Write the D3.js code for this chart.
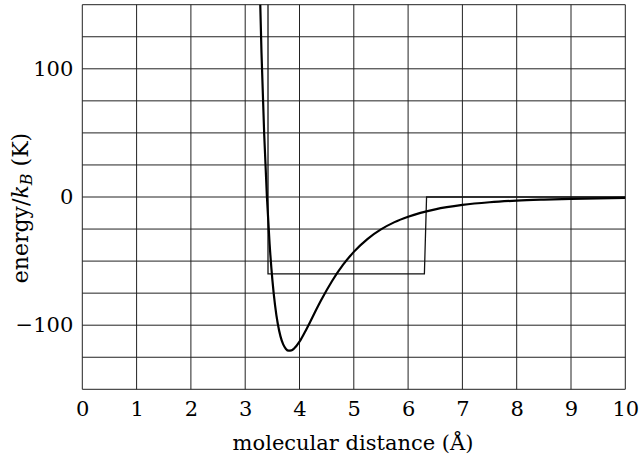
<!DOCTYPE html>
<html>
<head>
<meta charset="utf-8">
<script src="https://cdn.jsdelivr.net/npm/d3@7/dist/d3.min.js"></script>
<style>
  html, body { margin: 0; padding: 0; background: #fff; }
  svg { display: block; }
  text { font-family: "DejaVu Serif", "Liberation Serif", serif; fill: #000; }
</style>
</head>
<body>
<svg id="chart" width="642" height="458"></svg>
<script>
// Lennard-Jones pair potential (argon-like) sampled along the separation
const ljDistance = [3.25, 3.3, 3.35, 3.4, 3.45, 3.5, 3.55, 3.6, 3.65, 3.7, 3.75, 3.8, 3.85, 3.9,
  4.0, 4.1, 4.2, 4.3, 4.4, 4.6, 4.8, 5.0, 5.25, 5.5, 5.75, 6.0, 6.5, 7.0, 7.5, 8.0, 8.5, 9.0, 9.5, 10];
const ljEnergy = [195.6, 112.6, 48.8, 0, -36.9, -64.4, -84.5, -98.9, -108.7, -115.0, -118.5, -119.9, -119.7, -118.2,
  -112.8, -105.3, -97.1, -88.6, -80.4, -65.5, -53.0, -42.8, -32.8, -25.3, -19.6, -15.4, -9.6, -6.2, -4.1, -2.8, -2.0, -1.4, -1.0, -0.74];

// Square-well approximation: hard core, flat well, zero outside
const wellDistance = [3.42, 3.42, 6.3, 6.34, 10];
const wellEnergy = [170, -60, -60, 0, 0];

// Axis ticks and grid
const xTickLabels = [0, 1, 2, 3, 4, 5, 6, 7, 8, 9, 10];
const yTickLabels = [-100, 0, 100];
const yGridValues = [-150, -125, -100, -75, -50, -25, 0, 25, 50, 75, 100, 125, 150];

const svg = d3.select("#chart");
const plotLeft = 82.3, plotRight = 625.3, plotTop = 4.7, plotBottom = 389.3;
const fontSize = 21;

const x = d3.scaleLinear().domain([0, 10]).range([plotLeft, plotRight]);
const y = d3.scaleLinear().domain([-150, 150]).range([plotBottom, plotTop]);

svg.append("defs").append("clipPath").attr("id", "plot-clip")
  .append("rect").attr("x", plotLeft).attr("y", plotTop)
  .attr("width", plotRight - plotLeft).attr("height", plotBottom - plotTop);

// Grid
const grid = svg.append("g").attr("stroke", "#222").attr("stroke-width", 1);
grid.selectAll("line.v").data(xTickLabels).join("line").attr("class", "v")
  .attr("x1", d => x(d)).attr("x2", d => x(d)).attr("y1", plotTop).attr("y2", plotBottom);
grid.selectAll("line.h").data(yGridValues).join("line").attr("class", "h")
  .attr("x1", plotLeft).attr("x2", plotRight).attr("y1", d => y(d)).attr("y2", d => y(d));

// Axes (labels only; the frame is part of the grid)
const fmt = d => d < 0 ? "\u2212" + Math.abs(d) : String(d);
const xAxis = svg.append("g").attr("transform", `translate(0,${plotBottom})`)
  .call(d3.axisBottom(x).tickValues(xTickLabels).tickSize(0).tickPadding(12).tickFormat(fmt));
const yAxis = svg.append("g").attr("transform", `translate(${plotLeft},0)`)
  .call(d3.axisLeft(y).tickValues(yTickLabels).tickSize(0).tickPadding(9).tickFormat(fmt));
[xAxis, yAxis].forEach(a => {
  a.select(".domain").remove();
  a.selectAll("text").style("font-family", '"DejaVu Serif", serif').style("font-size", fontSize + "px").attr("fill", "#000");
});

// Curves
const plot = svg.append("g").attr("clip-path", "url(#plot-clip)");
const wellLine = d3.line().x((d, i) => x(wellDistance[i])).y(d => y(d));
plot.append("path").datum(wellEnergy)
  .attr("d", wellLine).attr("fill", "none").attr("stroke", "#111").attr("stroke-width", 1.3);

const ljLine = d3.line().x((d, i) => x(ljDistance[i])).y(d => y(d)).curve(d3.curveMonotoneX);
plot.append("path").datum(ljEnergy)
  .attr("d", ljLine).attr("fill", "none").attr("stroke", "#000").attr("stroke-width", 2.2);

// Axis titles
svg.append("text").attr("x", 353).attr("y", 450)
  .attr("text-anchor", "middle").style("font-size", fontSize + "px")
  .text("molecular distance (\u00C5)");

const yTitle = svg.append("text")
  .attr("transform", `translate(28,208) rotate(-90)`)
  .attr("text-anchor", "middle").style("font-size", "22px");
yTitle.append("tspan").text("energy/");
yTitle.append("tspan").style("font-style", "italic").text("k");
yTitle.append("tspan").attr("dy", 4).style("font-size", "16px").style("font-style", "italic").text("B");
yTitle.append("tspan").attr("dy", -4).text(" (K)");
</script>
</body>
</html>
